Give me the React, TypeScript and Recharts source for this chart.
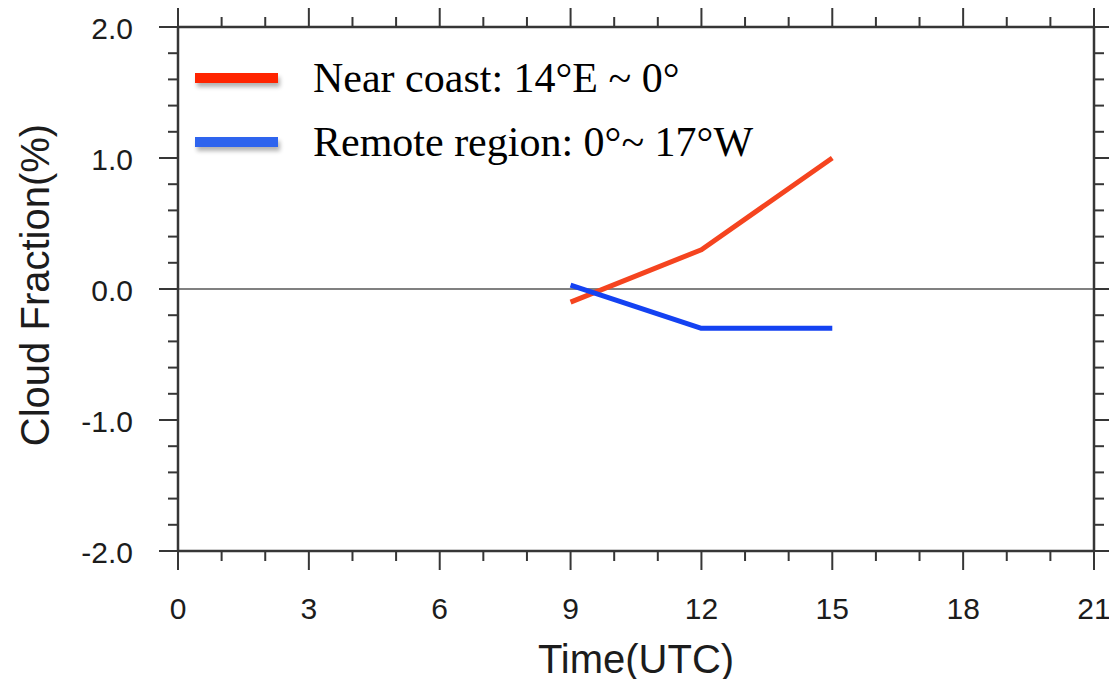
import React from "react";
import { Label, Legend, Line, LineChart, ReferenceLine, XAxis, YAxis } from "recharts";

// hours (UTC) where both regions were sampled
const hours = [9, 12, 15];
// cloud fraction anomaly (%)
const nearCoast = [-0.1, 0.3, 1.0];
const remoteRegion = [0.03, -0.3, -0.3];

const seriesNames = ["Near coast: 14°E ~ 0°", "Remote region: 0°~ 17°W"];

// every hour gets a tick, labelled every 3 hours
const xTicks = [0, 1, 2, 3, 4, 5, 6, 7, 8, 9, 10, 11, 12, 13, 14, 15, 16, 17, 18, 19, 20, 21];
// minor ticks every 0.2, labelled every 1.0
const yTicks = [-2, -1.8, -1.6, -1.4, -1.2, -1, -0.8, -0.6, -0.4, -0.2, 0, 0.2, 0.4, 0.6, 0.8, 1, 1.2, 1.4, 1.6, 1.8, 2];

const data = hours.map((h, i) => ({ hour: h, near: nearCoast[i], remote: remoteRegion[i] }));

const RED = "#f5441f";
const BLUE = "#1442f2";
const LEGEND_COLORS = ["#ff2400", "#2e64ee"];
const AXIS = "#363636";
const SANS = "'Liberation Sans', Arial, Helvetica, sans-serif";
const SERIF = "'Liberation Serif', 'Times New Roman', serif";

const isMajorX = (v: number) => v % 3 === 0;
const isMajorY = (v: number) => Math.abs(v - Math.round(v)) < 1e-6;

const BottomTick = ({ x, y, payload }: any) => {
  const major = isMajorX(payload.value);
  return (
    <g>
      <line x1={x} x2={x} y1={y} y2={y + (major ? 19 : 10)} stroke={AXIS} strokeWidth={2} />
      {major && (
        <text x={x} y={y + 68} textAnchor="middle" fontFamily={SANS} fontSize={30} fill="#1c1c1c">
          {payload.value}
        </text>
      )}
    </g>
  );
};

const TopTick = ({ x, y, payload }: any) => {
  const major = isMajorX(payload.value);
  return <line x1={x} x2={x} y1={y} y2={y - (major ? 19 : 10)} stroke={AXIS} strokeWidth={2} />;
};

const LeftTick = ({ x, y, payload }: any) => {
  const major = isMajorY(payload.value);
  return (
    <g>
      <line x1={x} x2={x - (major ? 19 : 10)} y1={y} y2={y} stroke={AXIS} strokeWidth={2} />
      {major && (
        <text x={x - 45} y={y + 12} textAnchor="end" fontFamily={SANS} fontSize={30} fill="#1c1c1c">
          {payload.value.toFixed(1)}
        </text>
      )}
    </g>
  );
};

const RightTick = ({ x, y, payload }: any) => {
  const major = isMajorY(payload.value);
  return <line x1={x} x2={x + (major ? 19 : 10)} y1={y} y2={y} stroke={AXIS} strokeWidth={2} />;
};

const LegendBox = () => (
  <div style={{ fontFamily: SERIF, fontSize: 42, color: "#000" }}>
    {seriesNames.map((name, i) => (
      <div key={name} style={{ display: "flex", alignItems: "center", height: 64, lineHeight: "64px", whiteSpace: "nowrap" }}>
        <div
          style={{
            width: 83,
            height: 10,
            background: LEGEND_COLORS[i],
            boxShadow: "2px 4px 4px rgba(0,0,0,0.3)",
            marginRight: 35,
          }}
        />
        <span>{name}</span>
      </div>
    ))}
  </div>
);

export default function App() {
  return (
    <div style={{ position: "absolute", left: 0, top: 0, background: "#fff" }}>
      <LineChart width={1109} height={679} data={data} margin={{ top: 0, right: 0, bottom: 0, left: 0 }}>
        <XAxis
          dataKey="hour"
          type="number"
          domain={[0, 21]}
          ticks={xTicks}
          interval={0}
          height={128}
          tickSize={0}
          tickMargin={0}
          tickLine={false}
          tick={<BottomTick />}
          axisLine={{ stroke: AXIS, strokeWidth: 2.5 }}
        >
          <Label
            content={() => (
              <text x={636} y={673} textAnchor="middle" fontFamily={SANS} fontSize={40} fill="#1c1c1c">
                Time(UTC)
              </text>
            )}
          />
        </XAxis>
        <XAxis
          xAxisId="top"
          orientation="top"
          dataKey="hour"
          type="number"
          domain={[0, 21]}
          allowDataOverflow
          ticks={xTicks}
          interval={0}
          height={27}
          tickSize={0}
          tickMargin={0}
          tickLine={false}
          tick={<TopTick />}
          axisLine={{ stroke: AXIS, strokeWidth: 2.5 }}
        />
        <YAxis
          type="number"
          domain={[-2, 2]}
          ticks={yTicks}
          interval={0}
          width={178}
          tickSize={0}
          tickMargin={0}
          tickLine={false}
          tick={<LeftTick />}
          axisLine={{ stroke: AXIS, strokeWidth: 2.5 }}
        >
          <Label
            content={() => (
              <text
                x={49}
                y={285}
                transform="rotate(-90 49 285)"
                textAnchor="middle"
                fontFamily={SANS}
                fontSize={40}
                fill="#1c1c1c"
              >
                Cloud Fraction(%)
              </text>
            )}
          />
        </YAxis>
        <YAxis
          yAxisId="right"
          orientation="right"
          type="number"
          domain={[-2, 2]}
          allowDataOverflow
          ticks={yTicks}
          interval={0}
          width={15}
          tickSize={0}
          tickMargin={0}
          tickLine={false}
          tick={<RightTick />}
          axisLine={{ stroke: AXIS, strokeWidth: 2.5 }}
        />
        <ReferenceLine y={0} stroke="#808080" strokeWidth={2} />
        <Legend
          layout="vertical"
          align="center"
          verticalAlign="middle"
          wrapperStyle={{ left: 195, top: 46, width: "auto", height: "auto" }}
          content={<LegendBox />}
        />
        <Line
          dataKey="near"
          name={seriesNames[0]}
          stroke={RED}
          strokeWidth={5}
          dot={false}
          strokeLinejoin="round"
          isAnimationActive={false}
        />
        <Line
          dataKey="remote"
          name={seriesNames[1]}
          stroke={BLUE}
          strokeWidth={5}
          dot={false}
          strokeLinejoin="round"
          isAnimationActive={false}
        />
      </LineChart>
    </div>
  );
}
